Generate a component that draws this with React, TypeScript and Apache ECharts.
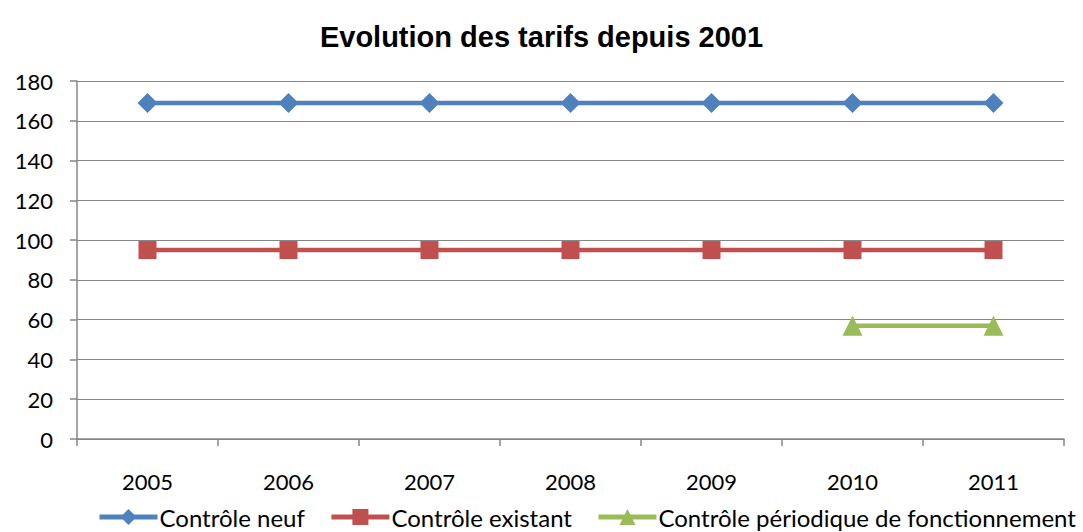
import React, { useEffect, useRef } from "react";
import * as echarts from "echarts";

const categories = ["2005", "2006", "2007", "2008", "2009", "2010", "2011"];
const controleNeuf = [169, 169, 169, 169, 169, 169, 169];
const controleExistant = [95, 95, 95, 95, 95, 95, 95];
const controlePeriodique = [null, null, null, null, null, 57, 57];
const seriesNames = ["Contrôle neuf", "Contrôle existant", "Contrôle périodique de fonctionnement"];

export default function App() {
  const ref = useRef<HTMLDivElement>(null);
  useEffect(() => {
    const chart = echarts.init(ref.current!, null, { renderer: "svg" });
    const font = "Lato, 'Open Sans', sans-serif";
    chart.setOption({
      animation: false,
      backgroundColor: "#ffffff",
      title: {
        text: "Evolution des tarifs depuis 2001",
        left: "center",
        top: 17,
        textStyle: { fontFamily: "'Liberation Sans', Arial, sans-serif", fontWeight: "bold", fontSize: 29, color: "#000" },
      },
      grid: { left: 77, right: 19, top: 81, bottom: 93 },
      legend: {
        orient: "horizontal",
        bottom: 2,
        left: 97,
        width: 1000,
        padding: 0,
        itemWidth: 58,
        itemHeight: 20,
        itemGap: 24,
        lineStyle: { width: 5 },
        textStyle: { fontFamily: font, fontSize: 24, lineHeight: 26, color: "#000", padding: [0, 0, 0, -3] },
        data: seriesNames,
      },
      xAxis: {
        type: "category",
        data: categories,
        boundaryGap: true,
        axisLine: { lineStyle: { color: "#868686", width: 1.5 } },
        axisTick: { show: true, length: 7, lineStyle: { color: "#868686", width: 1.5 } },
        axisLabel: { fontFamily: font, fontSize: 22, color: "#000", margin: 31 },
      },
      yAxis: {
        type: "value",
        min: 0,
        max: 180,
        interval: 20,
        axisLine: { show: true, lineStyle: { color: "#868686", width: 1.5 } },
        axisTick: { show: true, length: 7, inside: false, lineStyle: { color: "#868686", width: 1.5 } },
        splitLine: { lineStyle: { color: "#868686", width: 1.2 } },
        axisLabel: { fontFamily: font, fontSize: 22, color: "#000", margin: 24 },
      },
      series: [
        {
          name: seriesNames[0],
          type: "line",
          data: controleNeuf,
          symbol: "diamond",
          symbolSize: 20,
          lineStyle: { color: "#4f81bd", width: 4.5 },
          itemStyle: { color: "#4f81bd" },
        },
        {
          name: seriesNames[1],
          type: "line",
          data: controleExistant,
          symbol: "rect",
          symbolSize: 18,
          lineStyle: { color: "#c0504d", width: 4.5 },
          itemStyle: { color: "#c0504d" },
        },
        {
          name: seriesNames[2],
          type: "line",
          data: controlePeriodique,
          symbol: "triangle",
          symbolSize: 20,
          lineStyle: { color: "#9bbb59", width: 4.5 },
          itemStyle: { color: "#9bbb59" },
        },
      ],
    });
    return () => chart.dispose();
  }, []);
  return <div ref={ref} style={{ width: 1083, height: 532, position: "absolute", left: 0, top: 0 }} />;
}
